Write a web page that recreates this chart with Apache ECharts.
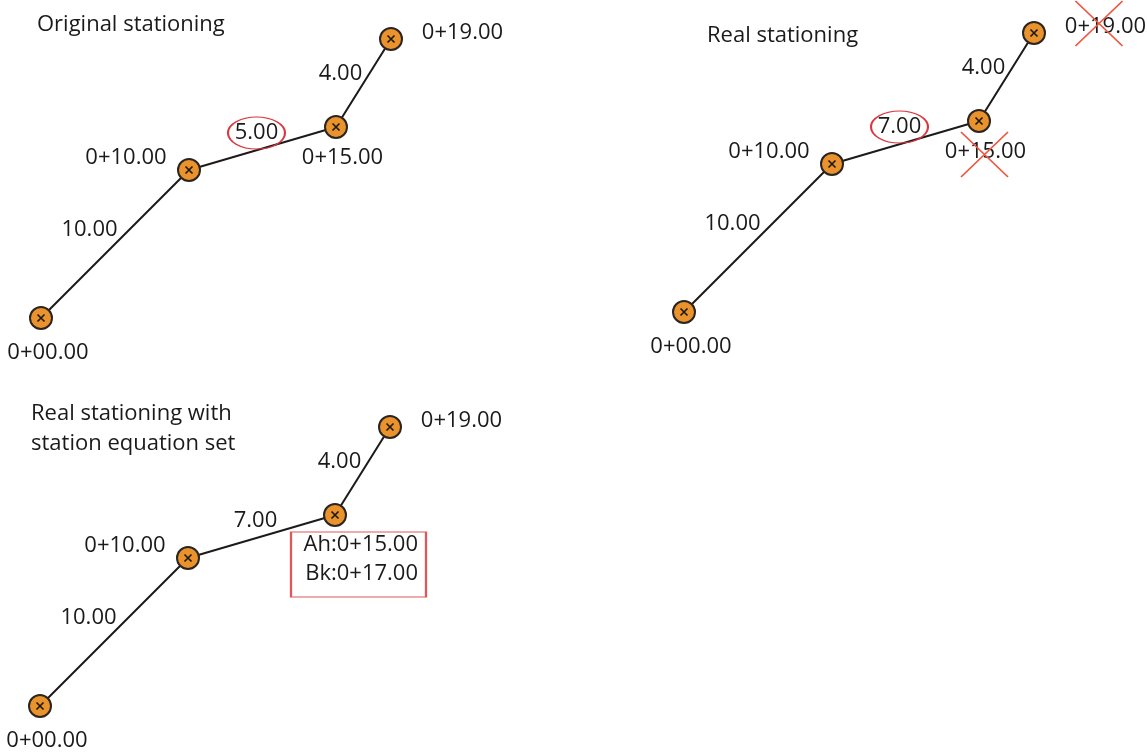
<!DOCTYPE html>
<html><head><meta charset="utf-8">
<script src="https://cdn.jsdelivr.net/npm/echarts@6/dist/echarts.min.js"></script>
<style>html,body{margin:0;padding:0;background:#fff}#c{width:1147px;height:752px}</style>
</head><body><div id="c"></div>
<script>
// ---- data ----
const nodeX = [0, 7.4, 14.75, 17.5];          // plan position of alignment points (easting)
const nodeY = [0, 7.4, 9.55, 13.95];          // plan position of alignment points (northing)
const panelTitles = ['Original stationing', 'Real stationing', 'Real stationing with\nstation equation set'];
const stationLabels = ['0+00.00', '0+10.00', '0+15.00', '0+19.00'];
const originalLengths = ['10.00', '5.00', '4.00'];
const realLengths = ['10.00', '7.00', '4.00'];
const stationAhead = 'Ah:0+15.00';
const stationBack = 'Bk:0+17.00';

// ---- style / layout ----
const FONT = 'Open Sans';
const TXT = '#1a1a1a';
const FS = 22;
const grids = [
  {left: 21, top: 18, width: 400, height: 320},
  {left: 664, top: 12, width: 400, height: 320},
  {left: 20, top: 406, width: 400, height: 320}
];
const titlePos = [{left: 37, top: 10}, {left: 707, top: 21}, {left: 31, top: 399}];
const nodeLabelOffsets = [[7, 35], [-63, -12], [6.5, 31], [71.5, -6]];
const segLabelOffsets = [[-25.5, -14], [-6, -15.5], [-23, -9]];

const midX = nodeX.slice(0, -1).map((v, i) => (v + nodeX[i + 1]) / 2);
const midY = nodeY.slice(0, -1).map((v, i) => (v + nodeY[i + 1]) / 2);
const nodes = nodeX.map((x, i) => [x, nodeY[i]]);

const ELLIPSE = 'path://M0,50A50,50,0,1,1,100,50A50,50,0,1,1,0,50Z';
const CROSS = 'path://M0,0L100,100M100,0L0,100';
const XMARK = 'path://M0,0L10,10M10,0L0,10';
const CLEAR = 'rgba(0,0,0,0)';

const series = [];
function textLabel(extra) {
  return Object.assign({show: true, position: 'inside', fontFamily: FONT, fontSize: FS, color: TXT}, extra);
}
for (let p = 0; p < 3; p++) {
  const ax = {xAxisIndex: p, yAxisIndex: p};
  const lengths = p === 0 ? originalLengths : realLengths;
  series.push(Object.assign({type: 'line', data: nodes, symbol: 'none', silent: true,
    lineStyle: {color: '#1e1a1a', width: 2}, z: 2}, ax));
  series.push(Object.assign({type: 'scatter', data: nodes, symbol: 'circle', symbolSize: 22, silent: true,
    itemStyle: {color: '#ea922c', borderColor: '#2a2522', borderWidth: 2, opacity: 1}, z: 3}, ax));
  series.push(Object.assign({type: 'scatter', data: nodes, symbol: XMARK, symbolSize: 7, silent: true,
    itemStyle: {color: CLEAR, borderColor: '#1e1a1a', borderWidth: 1.7, opacity: 1}, z: 4}, ax));
  // station labels
  series.push(Object.assign({type: 'scatter', symbolSize: 0, silent: true, z: 5,
    itemStyle: {color: CLEAR, opacity: 1},
    data: nodes.map((n, i) => ({
      value: n,
      label: textLabel({formatter: (p === 2 && i === 2) ? '' : stationLabels[i], offset: nodeLabelOffsets[i]})
    }))}, ax));
  // segment length labels
  series.push(Object.assign({type: 'scatter', symbolSize: 0, silent: true, z: 5,
    itemStyle: {color: CLEAR, opacity: 1},
    data: midX.map((x, i) => ({
      value: [x, midY[i]],
      label: textLabel({formatter: lengths[i], offset: segLabelOffsets[i]})
    }))}, ax));
  if (p < 2) {
    series.push(Object.assign({type: 'scatter', silent: true, z: 6,
      data: [[midX[1], midY[1]]], symbol: ELLIPSE, symbolSize: [57, 32], symbolOffset: [-6, -15.5],
      itemStyle: {color: CLEAR, borderColor: '#d9363e', borderWidth: 1.6, opacity: 1}}, ax));
  }
  if (p === 1) {
    series.push(Object.assign({type: 'scatter', silent: true, z: 6,
      data: [{value: nodes[2], symbolOffset: [5.5, 33.5]}, {value: nodes[3], symbolOffset: [65, -9.5]}],
      symbol: CROSS, symbolSize: [47, 45],
      itemStyle: {color: CLEAR, borderColor: '#f0553f', borderWidth: 1.7, opacity: 1}}, ax));
  }
  if (p === 2) {
    series.push(Object.assign({type: 'scatter', silent: true, z: 6,
      data: [nodes[2]], symbol: 'rect', symbolSize: [135, 65], symbolOffset: [23.5, 49.5],
      itemStyle: {color: CLEAR, borderColor: '#e0575a', borderWidth: 1.6, opacity: 1}}, ax));
    series.push(Object.assign({type: 'scatter', symbolSize: 0, silent: true, z: 7,
      itemStyle: {color: CLEAR, opacity: 1},
      data: [{value: nodes[2], label: textLabel({formatter: stationAhead + '\n' + stationBack,
        align: 'right', lineHeight: 29, offset: [83, 44.5]})}]}, ax));
  }
}

const chart = echarts.init(document.getElementById('c'), null, {renderer: 'canvas'});
chart.setOption({
  animation: false,
  backgroundColor: '#ffffff',
  title: panelTitles.map((t, i) => ({
    text: t, left: titlePos[i].left, top: titlePos[i].top, padding: 0,
    textStyle: {fontFamily: FONT, fontSize: FS, fontWeight: 'normal', color: TXT, lineHeight: 30}
  })),
  grid: grids,
  xAxis: grids.map((g, i) => ({type: 'value', gridIndex: i, min: -1, max: 19, show: false})),
  yAxis: grids.map((g, i) => ({type: 'value', gridIndex: i, min: -1, max: 15, show: false})),
  series: series
});
</script></body></html>
